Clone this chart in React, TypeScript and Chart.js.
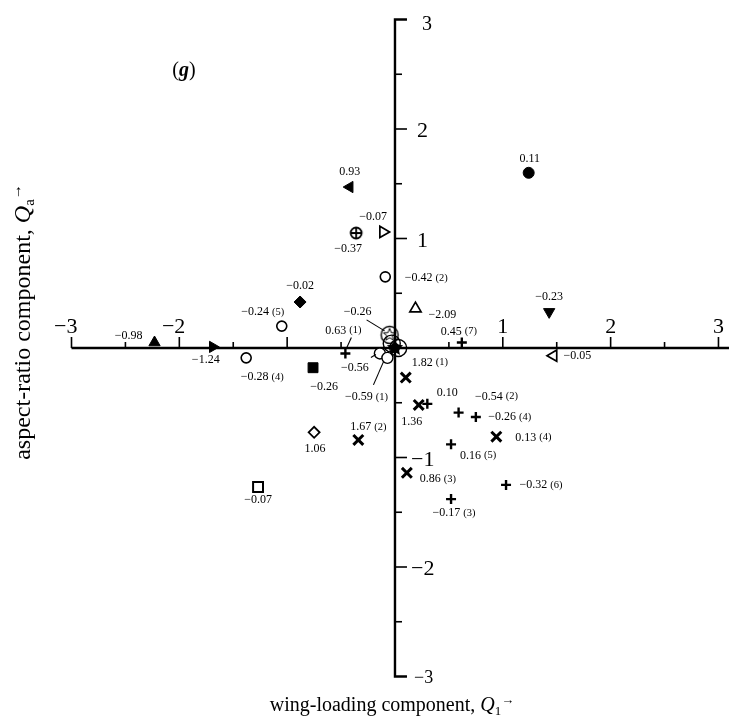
import React, { useEffect, useRef } from "react";
import { Chart, registerables } from "chart.js";

Chart.register(...registerables);

// ---------------- data ----------------
const wingLoading = [
  -2.23, -1.69, -1.38, -1.05, -0.88, -0.42, -0.36, -0.11, -0.09, 0.19,
  0.62, -0.46, -0.76, -0.05, 0.03, -0.03, 0.0, -0.14, -0.07,
  0.10, 0.22, 0.30, 0.59, 0.75, 0.94, -0.34, 0.52, 0.11, 1.03, 0.52,
  -0.75, -1.27, 1.24, 1.43, 1.47,
];
const aspectRatio = [
  0.05, 0.01, -0.09, 0.20, 0.42, 1.47, 1.05, 1.06, 0.65, 0.36,
  0.05, -0.05, -0.18, 0.12, 0.0, 0.04, 0.0, -0.05, -0.09,
  -0.27, -0.52, -0.51, -0.59, -0.63, -0.81, -0.84, -0.88, -1.14, -1.25, -1.38,
  -0.77, -1.27, 1.60, 0.33, -0.07,
];
const symbols = [
  "triUp", "triRight", "circle", "circle", "diamondFilled", "triLeft", "circlePlus", "triRightOpen", "circle", "triUpOpen",
  "plus", "plus", "squareFilled", "circleStar", "circleBig", "circleBig", "starFilled", "circleSmall", "circleSmall",
  "x", "x", "plus", "plus", "plus", "x", "x", "plus", "x", "plus", "plus",
  "diamondOpen", "squareOpen", "circleFilled", "triDown", "triLeftOpen",
];
const pointLabels = [
  "−0.98", "−1.24", "−0.28 (4)", "−0.24 (5)", "−0.02", "0.93", "−0.37", "−0.07", "−0.42 (2)", "−2.09",
  "0.45 (7)", "0.63 (1)", "−0.26", "−0.26", "", "", "", "−0.56", "−0.59 (1)",
  "1.82 (1)", "1.36", "0.10", "−0.54 (2)", "−0.26 (4)", "0.13 (4)", "1.67 (2)", "0.16 (5)", "0.86 (3)", "−0.32 (6)", "−0.17 (3)",
  "1.06", "−0.07", "0.11", "−0.23", "−0.05",
];

const axisTicks = [-3, -2.5, -2, -1.5, -1, -0.5, 0.5, 1, 1.5, 2, 2.5, 3];
const xLabelValues = [-3, -2, 1, 2, 3];
const xLabelTexts = ["−3", "−2", "1", "2", "3"];
const yLabelValues = [3, 2, 1, -1, -2, -3];
const yLabelTexts = ["3", "2", "1", "−1", "−2", "−3"];

const xTitle = "wing-loading component, ";
const yTitle = "aspect-ratio component, ";
const panelTag = "g";

// ---------------- annotation layout (pixel offsets of labels from their marks) ----------------
const labelOffsets: [number, number][] = [
  [-26, -7], [-7, 13], [16, 19], [-19, -14], [0, -16], [0, -15], [-8, 16], [-10, -15], [41, 1], [27, 6],
  [-3, -11], [-2, -23], [11, 19], [-32, -23], [0, 0], [0, 0], [0, 0], [-25, 14], [-21, 39],
  [24, -15], [-7, 17], [20, -11], [38, -16], [34, 0], [37, 1], [10, -13], [27, 11], [31, 6], [35, 0], [3, 14],
  [1, 17], [0, 13], [1, -14], [0, -15], [24, 0],
];
const leaders: Record<number, [number, number, number, number]> = {
  11: [1, -5, 6, -16],
  13: [-23, -15, -5, -4],
  17: [-9, 4, -4, 1],
  18: [-14, 27, -4, 4],
};

const SERIF = '"Liberation Serif", "DejaVu Serif", serif';

function makeGlyph(kind: string): HTMLCanvasElement {
  const s = 24;
  const c = document.createElement("canvas");
  c.width = s;
  c.height = s;
  const g = c.getContext("2d")!;
  g.translate(s / 2, s / 2);
  g.strokeStyle = "#000";
  g.fillStyle = "#000";
  const star = (ro: number, ri: number) => {
    g.beginPath();
    for (let i = 0; i < 10; i++) {
      const r = i % 2 === 0 ? ro : ri;
      const a = -Math.PI / 2 + (i * Math.PI) / 5;
      if (i === 0) g.moveTo(Math.cos(a) * r, Math.sin(a) * r);
      else g.lineTo(Math.cos(a) * r, Math.sin(a) * r);
    }
    g.closePath();
  };
  if (kind === "circlePlus") {
    g.lineWidth = 1.8;
    g.beginPath();
    g.arc(0, 0, 5.5, 0, Math.PI * 2);
    g.fillStyle = "#fff";
    g.fill();
    g.stroke();
    g.beginPath();
    g.moveTo(-5.5, 0);
    g.lineTo(5.5, 0);
    g.moveTo(0, -5.5);
    g.lineTo(0, 5.5);
    g.stroke();
  } else if (kind === "circleStar") {
    g.lineWidth = 1.4;
    g.beginPath();
    g.arc(0, 0, 8.5, 0, Math.PI * 2);
    g.stroke();
    g.lineWidth = 1;
    star(6.5, 2.8);
    g.stroke();
  } else if (kind === "starFilled") {
    star(8.5, 4);
    g.fill();
    g.beginPath();
    g.arc(0, 0, 5, 0, Math.PI * 2);
    g.fill();
  }
  return c;
}

type Style = { style: any; rot: number; r: number; fill: string; bw: number };

function styleFor(kind: string, glyphs: Record<string, HTMLCanvasElement>): Style {
  const B = "#000";
  const W = "#fff";
  switch (kind) {
    case "triUp": return { style: "triangle", rot: 0, r: 6.5, fill: B, bw: 1 };
    case "triRight": return { style: "triangle", rot: 90, r: 6.5, fill: B, bw: 1 };
    case "triDown": return { style: "triangle", rot: 180, r: 6.5, fill: B, bw: 1 };
    case "triLeft": return { style: "triangle", rot: 270, r: 6.5, fill: B, bw: 1 };
    case "triRightOpen": return { style: "triangle", rot: 90, r: 6.5, fill: W, bw: 1.7 };
    case "triLeftOpen": return { style: "triangle", rot: 270, r: 6.5, fill: W, bw: 1.7 };
    case "triUpOpen": return { style: "triangle", rot: 0, r: 6.5, fill: W, bw: 1.7 };
    case "circle": return { style: "circle", rot: 0, r: 5, fill: W, bw: 1.6 };
    case "circleBig": return { style: "circle", rot: 0, r: 8.5, fill: "rgba(0,0,0,0)", bw: 1.4 };
    case "circleSmall": return { style: "circle", rot: 0, r: 5.5, fill: W, bw: 1.4 };
    case "circleFilled": return { style: "circle", rot: 0, r: 5.5, fill: B, bw: 1 };
    case "diamondFilled": return { style: "rectRot", rot: 0, r: 6, fill: B, bw: 1 };
    case "diamondOpen": return { style: "rectRot", rot: 0, r: 5.5, fill: W, bw: 1.8 };
    case "squareFilled": return { style: "rect", rot: 0, r: 7, fill: B, bw: 1 };
    case "squareOpen": return { style: "rect", rot: 0, r: 7, fill: W, bw: 2 };
    case "plus": return { style: "cross", rot: 0, r: 5, fill: B, bw: 2.4 };
    case "x": return { style: "crossRot", rot: 0, r: 7, fill: B, bw: 3 };
    default: return { style: glyphs[kind], rot: 0, r: 8, fill: B, bw: 1 };
  }
}

const crossAxes = {
  id: "crossAxes",
  beforeDatasetsDraw(chart: any) {
    const { ctx, scales } = chart;
    const xs = scales.x;
    const ys = scales.y;
    const x0 = xs.getPixelForValue(0);
    const y0 = ys.getPixelForValue(0);
    const yTop = ys.getPixelForValue(3);
    const yBot = ys.getPixelForValue(-3);
    ctx.save();
    ctx.strokeStyle = "#000";
    ctx.lineCap = "butt";
    ctx.lineWidth = 2.4;
    ctx.beginPath();
    ctx.moveTo(xs.getPixelForValue(-3), y0);
    ctx.lineTo(chart.width, y0);
    ctx.stroke();
    ctx.beginPath();
    ctx.moveTo(x0 + 12, yTop);
    ctx.lineTo(x0, yTop);
    ctx.lineTo(x0, yBot);
    ctx.lineTo(x0 + 12, yBot);
    ctx.stroke();
    ctx.lineWidth = 1.6;
    for (const t of axisTicks) {
      const len = Number.isInteger(t) ? 11 : 6;
      const px = xs.getPixelForValue(t);
      ctx.beginPath();
      ctx.moveTo(px, y0);
      ctx.lineTo(px, y0 - len);
      ctx.stroke();
      if (Math.abs(t) !== 3) {
        const py = ys.getPixelForValue(t);
        ctx.beginPath();
        ctx.moveTo(x0, py);
        ctx.lineTo(x0 + (Number.isInteger(t) ? 12 : 7), py);
        ctx.stroke();
      }
    }
    // tick labels
    ctx.fillStyle = "#000";
    ctx.textBaseline = "alphabetic";
    ctx.font = `22px ${SERIF}`;
    xLabelValues.forEach((v, i) => {
      const px = xs.getPixelForValue(v);
      const txt = xLabelTexts[i];
      if (v < 0) {
        ctx.textAlign = "right";
        ctx.fillText(txt, px + 6, y0 - 15);
      } else {
        ctx.textAlign = "center";
        ctx.fillText(txt, px, y0 - 15);
      }
    });
    yLabelValues.forEach((v, i) => {
      const py = ys.getPixelForValue(v);
      const txt = yLabelTexts[i];
      ctx.textAlign = "left";
      if (v === -3) {
        ctx.font = `18px ${SERIF}`;
        ctx.fillText(txt, x0 + 19, py + 6);
      } else if (v === 3) {
        ctx.font = `20px ${SERIF}`;
        ctx.fillText(txt, x0 + 27, py + 10);
      } else {
        ctx.font = `22px ${SERIF}`;
        ctx.fillText(txt, v < 0 ? x0 + 16 : x0 + 22, py + 8);
      }
    });
    ctx.restore();
  },
  afterDatasetsDraw(chart: any) {
    const { ctx } = chart;
    const meta = chart.getDatasetMeta(0);
    ctx.save();
    ctx.fillStyle = "#000";
    ctx.strokeStyle = "#000";
    ctx.textBaseline = "middle";
    ctx.textAlign = "left";
    meta.data.forEach((el: any, i: number) => {
      const txt = pointLabels[i];
      const [dx, dy] = labelOffsets[i];
      const lead = leaders[i];
      if (lead) {
        ctx.lineWidth = 1.1;
        ctx.beginPath();
        ctx.moveTo(el.x + lead[0], el.y + lead[1]);
        ctx.lineTo(el.x + lead[2], el.y + lead[3]);
        ctx.stroke();
      }
      if (!txt) return;
      const k = txt.indexOf(" (");
      const main = k >= 0 ? txt.slice(0, k) : txt;
      const par = k >= 0 ? txt.slice(k + 1) : "";
      const fMain = `12px ${SERIF}`;
      const fPar = `10.5px ${SERIF}`;
      ctx.font = fMain;
      const w1 = ctx.measureText(main).width;
      ctx.font = fPar;
      const w2 = par ? ctx.measureText(par).width + 3 : 0;
      const x = el.x + dx - (w1 + w2) / 2;
      const y = el.y + dy;
      ctx.font = fMain;
      ctx.fillText(main, x, y);
      if (par) {
        ctx.font = fPar;
        ctx.fillText(par, x + w1 + 3, y);
      }
    });

    // axis titles and panel tag
    const drawRuns = (runs: { t: string; f: string; dy: number }[], cx: number, by: number) => {
      let total = 0;
      runs.forEach((r) => {
        ctx.font = r.f;
        total += ctx.measureText(r.t).width;
      });
      let x = cx - total / 2;
      ctx.textBaseline = "alphabetic";
      ctx.textAlign = "left";
      runs.forEach((r) => {
        ctx.font = r.f;
        ctx.fillText(r.t, x, by + r.dy);
        x += ctx.measureText(r.t).width;
      });
    };
    drawRuns(
      [
        { t: xTitle, f: `20px ${SERIF}`, dy: 0 },
        { t: "Q", f: `italic 20px ${SERIF}`, dy: 0 },
        { t: "1", f: `13px ${SERIF}`, dy: 4 },
        { t: "→", f: `13px ${SERIF}`, dy: -7 },
      ],
      392,
      711
    );
    ctx.save();
    ctx.translate(30, 322);
    ctx.rotate(-Math.PI / 2);
    drawRuns(
      [
        { t: yTitle, f: `24px ${SERIF}`, dy: 0 },
        { t: "Q", f: `italic 24px ${SERIF}`, dy: 0 },
        { t: "a", f: `15px ${SERIF}`, dy: 4 },
        { t: "→", f: `15px ${SERIF}`, dy: -9 },
      ],
      0,
      0
    );
    ctx.restore();
    drawRuns(
      [
        { t: "(", f: `20px ${SERIF}`, dy: 0 },
        { t: panelTag, f: `italic bold 20px ${SERIF}`, dy: 0 },
        { t: ")", f: `20px ${SERIF}`, dy: 0 },
      ],
      184,
      76
    );
    ctx.restore();
  },
};

export default function App() {
  const ref = useRef<HTMLCanvasElement>(null);
  useEffect(() => {
    const canvas = ref.current;
    if (!canvas) return;
    const glyphs: Record<string, HTMLCanvasElement> = {
      circlePlus: makeGlyph("circlePlus"),
      circleStar: makeGlyph("circleStar"),
      starFilled: makeGlyph("starFilled"),
    };
    const st = symbols.map((s) => styleFor(s, glyphs));
    const chart = new Chart(canvas, {
      type: "scatter",
      data: {
        datasets: [
          {
            data: wingLoading.map((q, i) => ({ x: q, y: aspectRatio[i] })),
            pointStyle: st.map((s) => s.style),
            pointRotation: st.map((s) => s.rot),
            pointRadius: st.map((s) => s.r),
            pointBackgroundColor: st.map((s) => s.fill),
            pointBorderColor: "#000",
            pointBorderWidth: st.map((s) => s.bw),
            showLine: false,
          } as any,
        ],
      },
      options: {
        animation: false,
        responsive: false,
        events: [],
        layout: { padding: { left: 71.5, right: 0, top: 19.5, bottom: 43.5 } },
        scales: {
          x: { type: "linear", min: -3, max: 3.005, display: false },
          y: { type: "linear", min: -3, max: 3, display: false },
        },
        plugins: { legend: { display: false }, tooltip: { enabled: false } },
      } as any,
      plugins: [crossAxes],
    });
    return () => chart.destroy();
  }, []);
  return (
    <div style={{ position: "absolute", left: 0, top: 0, width: 729, height: 720, background: "#fff" }}>
      <canvas ref={ref} width={729} height={720} style={{ width: 729, height: 720, display: "block" }} />
    </div>
  );
}
